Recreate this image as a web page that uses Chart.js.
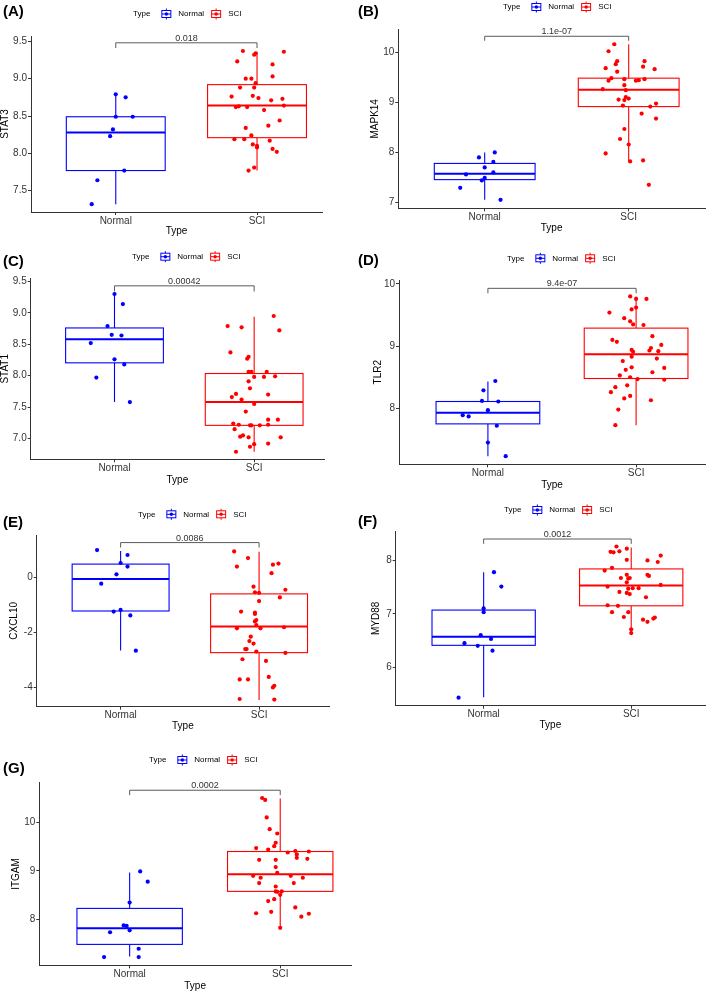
<!DOCTYPE html>
<html>
<head>
<meta charset="utf-8">
<script src="https://cdn.jsdelivr.net/npm/chart.js@4.4.1/dist/chart.umd.min.js"></script>
<style>
  body { margin: 0; background: #fff; }
  #fig { position: relative; width: 709px; height: 992px; overflow: hidden; background: #fff; }
  #fig canvas { position: absolute; }
  .tag { position: absolute; font: bold 15px "Liberation Sans", Arial, sans-serif; line-height: 15px; color: #000; }
</style>
</head>
<body>
<div id="fig"></div>
<script>
// ** data **

let groups = ['Normal', 'SCI'];
let genes = ['STAT3', 'MAPK14', 'STAT1', 'TLR2', 'CXCL10', 'MYD88', 'ITGAM'];
let tags = ['(A)', '(B)', '(C)', '(D)', '(E)', '(F)', '(G)'];
let pValues = ['0.018', '1.1e-07', '0.00042', '9.4e-07', '0.0086', '0.0012', '0.0002'];
let bracketTop = [9.48, 10.33, 9.43, 9.93, 1.26, 8.40, 10.66];
let bracketFoot = [9.41, 10.24, 9.34, 9.85, 1.08, 8.31, 10.56];

// y tick labels per panel
let yTicksA = ['7.5', '8.0', '8.5', '9.0', '9.5'];
let yTicksB = ['7', '8', '9', '10'];
let yTicksC = ['7.0', '7.5', '8.0', '8.5', '9.0', '9.5'];
let yTicksD = ['8', '9', '10'];
let yTicksE = ['-4', '-2', '0'];
let yTicksF = ['6', '7', '8'];
let yTicksG = ['8', '9', '10'];

// box stats: [lower whisker, q1, median, q3, upper whisker]
let stat3BoxNormal = [7.32, 7.77, 8.28, 8.49, 8.79];
let stat3BoxSci = [7.77, 8.21, 8.64, 8.92, 9.36];
let mapk14BoxNormal = [7.05, 7.455, 7.575, 7.78, 8.00];
let mapk14BoxSci = [7.82, 8.92, 9.26, 9.49, 10.17];
let stat1BoxNormal = [7.58, 8.205, 8.58, 8.76, 9.30];
let stat1BoxSci = [6.79, 7.21, 7.58, 8.035, 8.94];
let tlr2BoxNormal = [7.23, 7.75, 7.93, 8.11, 8.43];
let tlr2BoxSci = [7.73, 8.48, 8.87, 9.29, 9.80];
let cxcl10BoxNormal = [-2.65, -1.22, -0.06, 0.48, 0.955];
let cxcl10BoxSci = [-4.45, -2.73, -1.78, -0.60, 0.93];
let myd88BoxNormal = [5.44, 6.41, 6.57, 7.07, 7.78];
let myd88BoxSci = [6.65, 7.15, 7.53, 7.84, 8.24];
let itgamBoxNormal = [7.24, 7.49, 7.82, 8.23, 8.97];
let itgamBoxSci = [7.82, 8.58, 8.93, 9.40, 10.49];

// jittered samples: values and horizontal jitter (category units)
let stat3Normal = [8.79, 8.75, 8.49, 8.49, 8.32, 8.23, 7.77, 7.64, 7.32];
let stat3NormalJit = [0, 0.07, 0, 0.12, -0.02, -0.04, 0.06, -0.13, -0.17];
let stat3Sci = [9.37, 9.23, 9.32, 9.34, 9.36, 9.19, 9.00, 9.00, 9.03, 8.94, 8.88, 8.88, 8.76, 8.77, 8.74, 8.71, 8.73, 8.62, 8.63, 8.62, 8.64, 8.58, 8.44, 8.37, 8.34, 8.24, 8.19, 8.19, 8.17, 8.12, 8.10, 8.08, 8.06, 8.02, 7.81, 7.77];
let stat3SciJit = [-0.10, -0.14, -0.02, -0.01, 0.19, 0.11, -0.08, -0.04, 0.11, -0.01, -0.12, -0.02, -0.18, -0.03, 0.01, 0.10, 0.18, -0.15, -0.13, -0.07, 0.19, 0.05, 0.16, 0.08, -0.08, -0.04, -0.16, -0.09, 0.09, -0.03, 0.00, 0.00, 0.11, 0.14, -0.02, -0.06];

let mapk14Normal = [8.00, 7.90, 7.81, 7.70, 7.56, 7.60, 7.49, 7.44, 7.29, 7.05];
let mapk14NormalJit = [0.07, -0.04, 0.06, 0.00, -0.13, 0.06, 0.00, -0.02, -0.17, 0.11];
let mapk14Sci = [10.17, 10.03, 9.83, 9.77, 9.69, 9.62, 9.83, 9.72, 9.67, 9.49, 9.44, 9.47, 9.44, 9.45, 9.47, 9.35, 9.27, 9.25, 9.11, 9.08, 9.06, 9.05, 8.94, 8.98, 8.92, 8.78, 8.68, 8.47, 8.27, 8.16, 7.98, 7.84, 7.82, 7.35];
let mapk14SciJit = [-0.10, -0.14, -0.08, -0.09, -0.16, -0.08, 0.11, 0.10, 0.18, -0.12, -0.14, -0.03, 0.05, 0.07, 0.11, -0.03, -0.18, -0.02, -0.02, 0.00, -0.07, -0.03, -0.04, 0.19, 0.15, 0.09, 0.19, -0.03, -0.06, 0.00, -0.16, 0.10, 0.01, 0.14];

let stat1Normal = [9.30, 9.14, 8.79, 8.65, 8.64, 8.52, 8.26, 8.18, 7.97, 7.58];
let stat1NormalJit = [0.00, 0.06, -0.05, -0.02, 0.05, -0.17, 0.00, 0.07, -0.13, 0.11];
let stat1Sci = [8.95, 8.79, 8.77, 8.72, 8.37, 8.30, 8.27, 8.06, 8.06, 8.06, 7.98, 7.98, 7.99, 7.91, 7.80, 7.71, 7.70, 7.66, 7.62, 7.55, 7.43, 7.24, 7.30, 7.30, 7.22, 7.21, 7.21, 7.21, 7.22, 7.15, 7.03, 7.05, 7.02, 7.02, 6.91, 6.92, 6.87, 6.79];
let stat1SciJit = [0.14, -0.19, -0.09, 0.18, -0.17, -0.04, -0.05, -0.04, -0.02, 0.09, 0.00, 0.07, 0.15, -0.04, -0.03, -0.13, 0.10, -0.16, -0.09, 0.00, -0.06, -0.15, 0.10, 0.17, -0.11, -0.03, -0.02, 0.04, 0.10, -0.14, -0.10, -0.08, -0.04, 0.19, 0.00, 0.10, -0.03, -0.13];

let tlr2Normal = [8.44, 8.29, 8.12, 8.11, 7.97, 7.89, 7.87, 7.72, 7.45, 7.23];
let tlr2NormalJit = [0.05, -0.03, -0.04, 0.07, 0.00, -0.17, -0.13, 0.06, 0.00, 0.12];
let tlr2Sci = [9.80, 9.76, 9.76, 9.62, 9.59, 9.54, 9.45, 9.40, 9.35, 9.34, 9.10, 9.07, 9.16, 9.02, 8.97, 8.93, 8.92, 8.94, 8.91, 8.83, 8.80, 8.76, 8.66, 8.62, 8.65, 8.58, 8.53, 8.50, 8.47, 8.46, 8.37, 8.34, 8.26, 8.16, 8.20, 8.13, 7.98, 7.73];
let tlr2SciJit = [-0.04, 0.00, 0.07, 0.00, -0.03, -0.18, -0.08, -0.04, -0.02, 0.05, -0.16, -0.13, 0.11, 0.17, 0.10, 0.09, 0.15, -0.03, -0.02, -0.03, 0.14, -0.09, -0.03, -0.07, 0.19, 0.11, -0.11, -0.04, 0.01, 0.19, -0.06, -0.14, -0.17, -0.08, -0.04, 0.10, -0.12, -0.14];

let cxcl10Normal = [0.99, 0.81, 0.52, 0.39, 0.11, -0.23, -1.18, -1.24, -1.38, -2.66];
let cxcl10NormalJit = [-0.17, 0.05, 0.00, 0.05, -0.03, -0.14, 0.00, -0.05, 0.07, 0.11];
let cxcl10Sci = [0.94, 0.70, 0.39, 0.46, 0.50, 0.15, -0.34, -0.54, -0.56, -0.45, -0.73, -0.86, -1.24, -1.28, -1.33, -1.55, -1.60, -1.73, -1.85, -1.85, -1.81, -2.15, -2.31, -2.40, -2.60, -2.60, -2.69, -2.74, -2.97, -3.03, -3.70, -3.70, -3.61, -3.93, -3.99, -4.41, -4.43];
let cxcl10SciJit = [-0.18, -0.08, -0.16, 0.10, 0.14, 0.09, -0.04, -0.03, 0.00, 0.19, 0.15, 0.00, -0.13, -0.03, -0.03, -0.02, -0.03, -0.02, -0.16, 0.01, 0.18, -0.06, -0.07, -0.04, -0.10, -0.09, -0.02, 0.19, -0.12, 0.05, -0.14, -0.08, 0.07, 0.11, 0.10, -0.14, 0.11];

let myd88Normal = [7.78, 7.51, 7.10, 7.03, 6.60, 6.53, 6.45, 6.40, 6.31, 5.43];
let myd88NormalJit = [0.07, 0.12, 0.00, 0.00, -0.02, 0.05, -0.13, -0.04, 0.06, -0.17];
let myd88Sci = [8.26, 8.22, 8.16, 8.15, 8.17, 8.09, 8.01, 8.00, 7.97, 7.86, 7.81, 7.73, 7.73, 7.71, 7.67, 7.66, 7.67, 7.59, 7.51, 7.54, 7.47, 7.48, 7.48, 7.41, 7.39, 7.37, 7.31, 7.16, 7.15, 7.03, 7.03, 6.94, 6.89, 6.85, 6.91, 6.93, 6.71, 6.64];
let myd88SciJit = [-0.10, -0.03, -0.14, -0.12, -0.08, 0.20, -0.03, 0.11, 0.18, -0.13, -0.18, -0.03, 0.11, 0.12, -0.07, -0.02, -0.01, -0.03, -0.16, 0.20, -0.02, 0.01, 0.05, -0.08, -0.03, -0.01, 0.10, -0.16, -0.09, -0.13, -0.02, -0.05, 0.08, 0.11, 0.15, 0.16, 0.00, 0.00];

let itgamNormal = [8.99, 8.78, 8.35, 7.88, 7.87, 7.78, 7.74, 7.40, 7.23, 7.23];
let itgamNormalJit = [0.07, 0.12, 0.00, -0.04, -0.02, 0.00, -0.13, 0.06, -0.17, 0.06];
let itgamSci = [10.50, 10.46, 10.10, 9.86, 9.77, 9.58, 9.51, 9.47, 9.44, 9.38, 9.41, 9.40, 9.34, 9.27, 9.25, 9.23, 9.23, 9.08, 8.96, 8.90, 8.90, 8.86, 8.86, 8.75, 8.75, 8.68, 8.58, 8.58, 8.57, 8.51, 8.42, 8.38, 8.25, 8.16, 8.13, 8.12, 8.06, 7.83];
let itgamSciJit = [-0.12, -0.10, -0.09, -0.07, -0.02, -0.03, -0.04, -0.16, -0.08, 0.05, 0.10, 0.19, 0.11, 0.11, 0.18, -0.14, -0.03, -0.03, -0.02, -0.18, 0.07, 0.15, -0.13, -0.14, 0.09, -0.03, -0.03, 0.01, -0.02, 0.00, -0.04, -0.08, 0.10, -0.06, -0.16, 0.19, 0.14, 0.00];

// ** grouping per panel **
let yTicks = [yTicksA, yTicksB, yTicksC, yTicksD, yTicksE, yTicksF, yTicksG];
let boxesNormal = [stat3BoxNormal, mapk14BoxNormal, stat1BoxNormal, tlr2BoxNormal, cxcl10BoxNormal, myd88BoxNormal, itgamBoxNormal];
let boxesSci = [stat3BoxSci, mapk14BoxSci, stat1BoxSci, tlr2BoxSci, cxcl10BoxSci, myd88BoxSci, itgamBoxSci];
let valuesNormal = [stat3Normal, mapk14Normal, stat1Normal, tlr2Normal, cxcl10Normal, myd88Normal, itgamNormal];
let jitterNormal = [stat3NormalJit, mapk14NormalJit, stat1NormalJit, tlr2NormalJit, cxcl10NormalJit, myd88NormalJit, itgamNormalJit];
let valuesSci = [stat3Sci, mapk14Sci, stat1Sci, tlr2Sci, cxcl10Sci, myd88Sci, itgamSci];
let jitterSci = [stat3SciJit, mapk14SciJit, stat1SciJit, tlr2SciJit, cxcl10SciJit, myd88SciJit, itgamSciJit];

// ** layout (page pixels) **
// area = [left, top, right, bottom] of the plotting panel
let panels = [
  {left: 0,   top: 0,   w: 355, h: 243, area: [31, 36, 322, 212],        xr: [0.4, 2.46],   yr: [7.215, 9.571], tagY: 10,    legend: [133, 14],    xTitleY: 231.7, yTitleX: 5},
  {left: 355, top: 0,   w: 354, h: 243, area: [398.3, 29.3, 706.7, 208.3], xr: [0.4, 2.53],   yr: [6.88, 10.47],  tagY: 10,    legend: [503, 7],     xTitleY: 228.3, yTitleX: 375},
  {left: 0,   top: 245, w: 355, h: 248, area: [30.7, 278.3, 324, 459.3],  xr: [0.4, 2.5],    yr: [6.67, 9.55],   tagY: 260,   legend: [132, 256.7], xTitleY: 480,   yTitleX: 5},
  {left: 355, top: 245, w: 354, h: 248, area: [399, 280, 706.7, 464.3],   xr: [0.4, 2.465],  yr: [7.10, 10.064], tagY: 259,   legend: [507, 258.3], xTitleY: 485,   yTitleX: 378.3},
  {left: 0,   top: 495, w: 355, h: 243, area: [36.7, 535, 329, 706.7],    xr: [0.394, 2.505], yr: [-4.69, 1.535], tagY: 521.5, legend: [138, 514.3], xTitleY: 726.7, yTitleX: 14},
  {left: 355, top: 495, w: 354, h: 243, area: [395.7, 531, 706.7, 705.7], xr: [0.404, 2.5],  yr: [5.28, 8.55],   tagY: 520,   legend: [504, 510],   xTitleY: 725,   yTitleX: 376.7},
  {left: 0,   top: 740, w: 355, h: 252, area: [39.3, 782.7, 354, 965.3],  xr: [0.4, 2.47],   yr: [7.06, 10.815], tagY: 767.5, legend: [149, 760],   xTitleY: 986,   yTitleX: 16.7}
];

let colors = ['#0000FF', '#FF0000'];
let fontFamily = '"Liberation Sans", Arial, Helvetica, sans-serif';
let boxHalf = 0.35;

Chart.defaults.font.family = fontFamily;

//** helpers **/

function toPoints(group, values, jitter) {
  return values.map((v, i) => ({x: group + (jitter[i] || 0), y: v}));
}

function drawLegendIcon(ctx, x, cy, color) {
  ctx.save();
  ctx.strokeStyle = color;
  ctx.fillStyle = color;
  ctx.lineWidth = 1;
  ctx.strokeRect(x + 0.5, cy - 3.5, 9, 7);
  ctx.beginPath();
  ctx.moveTo(x + 5, cy - 5.5); ctx.lineTo(x + 5, cy - 3.5);
  ctx.moveTo(x + 5, cy + 3.5); ctx.lineTo(x + 5, cy + 5.5);
  ctx.moveTo(x + 0.5, cy); ctx.lineTo(x + 9.5, cy);
  ctx.stroke();
  ctx.beginPath();
  ctx.arc(x + 5, cy, 1.7, 0, Math.PI * 2);
  ctx.fill();
  ctx.restore();
}

let boxPlugin = {
  id: 'boxplot',
  beforeDatasetsDraw(chart, args, opts) {
    let ctx = chart.ctx;
    let xs = chart.scales.x;
    let ys = chart.scales.y;
    opts.boxes.forEach((b, g) => {
      let c = xs.getPixelForValue(g + 1);
      let l = xs.getPixelForValue(g + 1 - boxHalf);
      let r = xs.getPixelForValue(g + 1 + boxHalf);
      let yLo = ys.getPixelForValue(b[0]);
      let yQ1 = ys.getPixelForValue(b[1]);
      let yMed = ys.getPixelForValue(b[2]);
      let yQ3 = ys.getPixelForValue(b[3]);
      let yHi = ys.getPixelForValue(b[4]);
      ctx.save();
      ctx.strokeStyle = colors[g];
      ctx.lineWidth = 1.1;
      ctx.beginPath();
      ctx.moveTo(c, yHi); ctx.lineTo(c, yQ3);
      ctx.moveTo(c, yQ1); ctx.lineTo(c, yLo);
      ctx.stroke();
      ctx.fillStyle = '#fff';
      ctx.fillRect(l, yQ3, r - l, yQ1 - yQ3);
      ctx.strokeRect(l, yQ3, r - l, yQ1 - yQ3);
      ctx.lineWidth = 2;
      ctx.beginPath();
      ctx.moveTo(l, yMed); ctx.lineTo(r, yMed);
      ctx.stroke();
      ctx.restore();
    });
  },
  afterDatasetsDraw(chart, args, opts) {
    let ctx = chart.ctx;
    let xs = chart.scales.x;
    let ys = chart.scales.y;
    let x1 = xs.getPixelForValue(1);
    let x2 = xs.getPixelForValue(2);
    let yt = ys.getPixelForValue(opts.bracket[0]);
    let yf = ys.getPixelForValue(opts.bracket[1]);
    ctx.save();
    ctx.strokeStyle = '#5a5a5a';
    ctx.lineWidth = 1;
    ctx.beginPath();
    ctx.moveTo(x1, yf); ctx.lineTo(x1, yt); ctx.lineTo(x2, yt); ctx.lineTo(x2, yf);
    ctx.stroke();
    ctx.fillStyle = '#333';
    ctx.font = '9px ' + fontFamily;
    ctx.textAlign = 'center';
    ctx.textBaseline = 'alphabetic';
    ctx.fillText(opts.pText, xs.getPixelForValue(1.5), yt - 2);
    ctx.restore();
  },
  afterDraw(chart, args, opts) {
    // ggplot style legend above the panel
    let ctx = chart.ctx;
    let x = opts.legendX;
    let cy = opts.legendY;
    ctx.save();
    ctx.font = '8px ' + fontFamily;
    ctx.textBaseline = 'middle';
    ctx.textAlign = 'left';
    ctx.fillStyle = '#000';
    ctx.fillText('Type', x, cy);
    x += ctx.measureText('Type').width + 11;
    groups.forEach((name, g) => {
      drawLegendIcon(ctx, x, cy, colors[g]);
      x += 10 + 7;
      ctx.fillStyle = '#000';
      ctx.fillText(name, x, cy);
      x += ctx.measureText(name).width + 7;
    });
    ctx.restore();
  }
};

function makePanel(p, i) {
  let fig = document.getElementById('fig');
  let canvas = document.createElement('canvas');
  canvas.width = p.w;
  canvas.height = p.h;
  canvas.style.left = p.left + 'px';
  canvas.style.top = p.top + 'px';
  canvas.style.width = p.w + 'px';
  canvas.style.height = p.h + 'px';
  fig.appendChild(canvas);

  let tag = document.createElement('div');
  tag.className = 'tag';
  tag.textContent = tags[i];
  tag.style.left = (p.left + 3) + 'px';
  tag.style.top = (p.tagY - 7.3) + 'px';
  fig.appendChild(tag);

  let yScaleWidth = p.area[0] - p.left;
  let xScaleHeight = p.top + p.h - p.area[3];
  let ticksY = yTicks[i];

  new Chart(canvas, {
    type: 'scatter',
    data: {
      datasets: [
        {label: groups[0], data: toPoints(1, valuesNormal[i], jitterNormal[i]), backgroundColor: colors[0], pointRadius: 2.1, borderWidth: 0},
        {label: groups[1], data: toPoints(2, valuesSci[i], jitterSci[i]), backgroundColor: colors[1], pointRadius: 2.1, borderWidth: 0}
      ]
    },
    options: {
      responsive: false,
      animation: false,
      devicePixelRatio: 1,
      layout: {padding: {left: 0, bottom: 0, top: p.area[1] - p.top, right: p.left + p.w - p.area[2]}},
      plugins: {
        legend: {display: false},
        tooltip: {enabled: false},
        boxplot: {
          boxes: [boxesNormal[i], boxesSci[i]],
          bracket: [bracketTop[i], bracketFoot[i]],
          pText: pValues[i],
          legendX: p.legend[0] - p.left,
          legendY: p.legend[1] - p.top
        }
      },
      scales: {
        x: {
          type: 'linear',
          min: p.xr[0],
          max: p.xr[1],
          afterFit: s => { s.height = xScaleHeight; },
          afterBuildTicks: s => { s.ticks = [{value: 1}, {value: 2}]; },
          ticks: {
            autoSkip: false,
            maxRotation: 0,
            padding: 0,
            color: '#333',
            font: {size: 10},
            callback: (v, idx) => groups[idx]
          },
          grid: {drawOnChartArea: false, tickLength: 3, color: '#333'},
          border: {display: true, color: '#333', width: 1},
          title: {
            display: true,
            text: 'Type',
            color: '#000',
            font: {size: 10, lineHeight: 1},
            padding: {top: 0, bottom: p.top + p.h - p.xTitleY - 5}
          }
        },
        y: {
          type: 'linear',
          min: p.yr[0],
          max: p.yr[1],
          afterFit: s => { s.width = yScaleWidth; },
          afterBuildTicks: s => { s.ticks = ticksY.map(t => ({value: parseFloat(t)})); },
          ticks: {
            padding: 1,
            color: '#333',
            font: {size: 10},
            callback: (v, idx) => ticksY[idx]
          },
          grid: {drawOnChartArea: false, tickLength: 3, color: '#333'},
          border: {display: true, color: '#333', width: 1},
          title: {
            display: true,
            text: genes[i],
            color: '#000',
            font: {size: 10, lineHeight: 1},
            padding: {top: p.yTitleX - p.left - 5, bottom: 0}
          }
        }
      }
    },
    plugins: [boxPlugin]
  });
}

//Executable Code

panels.forEach(makePanel);
</script>
</body>
</html>
